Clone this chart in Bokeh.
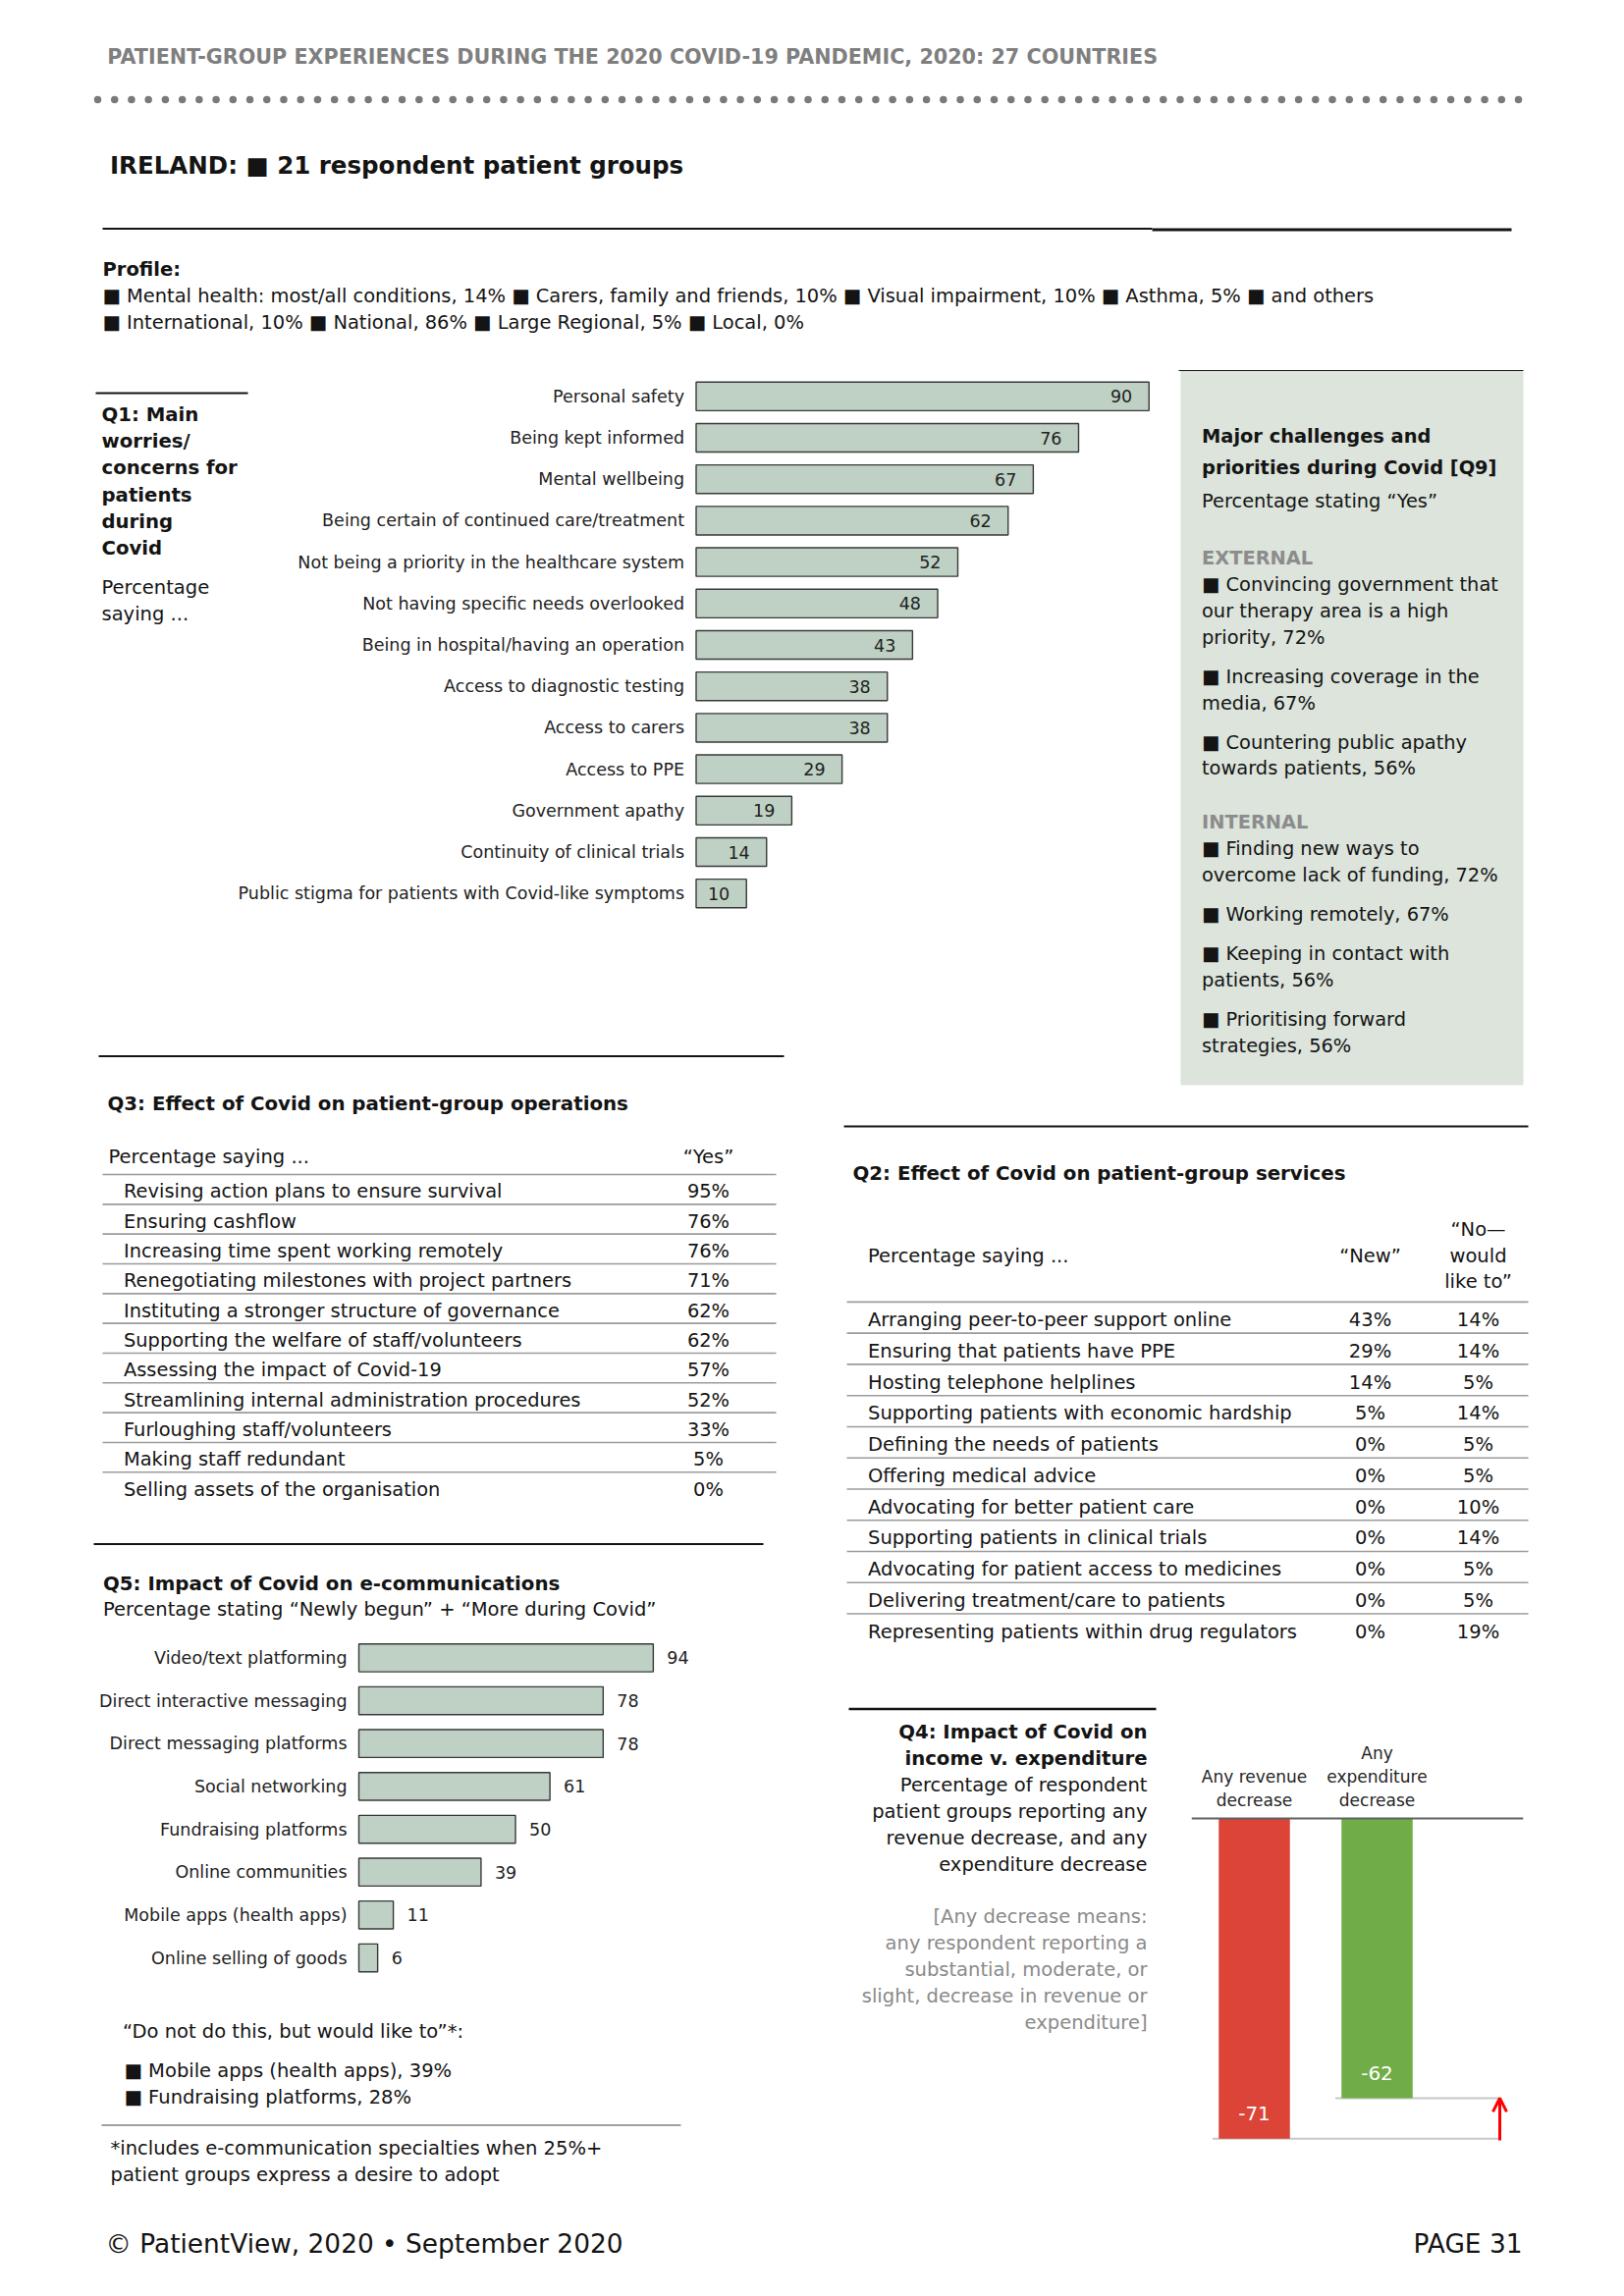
import numpy as np
from bokeh.plotting import figure
from bokeh.models import Range1d, Arrow, OpenHead
from bokeh.core.properties import value
from bokeh.embed import file_html
from bokeh.resources import INLINE

# ---------------- data ----------------
page_title = "PATIENT-GROUP EXPERIENCES DURING THE 2020 COVID-19 PANDEMIC, 2020: 27 COUNTRIES"
country_title = "IRELAND: ■ 21 respondent patient groups"
profile_heading = "Profile:"
profile_lines = [
    "■ Mental health: most/all conditions, 14% ■ Carers, family and friends, 10% ■ Visual impairment, 10% ■ Asthma, 5% ■ and others",
    "■ International, 10% ■ National, 86% ■ Large Regional, 5% ■ Local, 0%",
]

q1_heading = ["Q1: Main", "worries/", "concerns for", "patients", "during", "Covid"]
q1_sub = ["Percentage", "saying ..."]
q1_categories = [
    "Personal safety", "Being kept informed", "Mental wellbeing",
    "Being certain of continued care/treatment",
    "Not being a priority in the healthcare system",
    "Not having specific needs overlooked",
    "Being in hospital/having an operation",
    "Access to diagnostic testing", "Access to carers", "Access to PPE",
    "Government apathy", "Continuity of clinical trials",
    "Public stigma for patients with Covid-like symptoms",
]
q1_values = [90, 76, 67, 62, 52, 48, 43, 38, 38, 29, 19, 14, 10]

q9_heading = ["Major challenges and", "priorities during Covid [Q9]"]
q9_sub = "Percentage stating “Yes”"
q9_external = [
    ["Convincing government that", "our therapy area is a high", "priority, 72%"],
    ["Increasing coverage in the", "media, 67%"],
    ["Countering public apathy", "towards patients, 56%"],
]
q9_internal = [
    ["Finding new ways to", "overcome lack of funding, 72%"],
    ["Working remotely, 67%"],
    ["Keeping in contact with", "patients, 56%"],
    ["Prioritising forward", "strategies, 56%"],
]

q3_title = "Q3: Effect of Covid on patient-group operations"
q3_col_label = "Percentage saying ..."
q3_col_yes = "“Yes”"
q3_items = [
    "Revising action plans to ensure survival", "Ensuring cashflow",
    "Increasing time spent working remotely",
    "Renegotiating milestones with project partners",
    "Instituting a stronger structure of governance",
    "Supporting the welfare of staff/volunteers",
    "Assessing the impact of Covid-19",
    "Streamlining internal administration procedures",
    "Furloughing staff/volunteers", "Making staff redundant",
    "Selling assets of the organisation",
]
q3_yes = [95, 76, 76, 71, 62, 62, 57, 52, 33, 5, 0]

q2_title = "Q2: Effect of Covid on patient-group services"
q2_col_label = "Percentage saying ..."
q2_col_new = "“New”"
q2_col_would = ["“No—", "would", "like to”"]
q2_items = [
    "Arranging peer-to-peer support online", "Ensuring that patients have PPE",
    "Hosting telephone helplines", "Supporting patients with economic hardship",
    "Defining the needs of patients", "Offering medical advice",
    "Advocating for better patient care", "Supporting patients in clinical trials",
    "Advocating for patient access to medicines",
    "Delivering treatment/care to patients",
    "Representing patients within drug regulators",
]
q2_new = [43, 29, 14, 5, 0, 0, 0, 0, 0, 0, 0]
q2_would_like = [14, 14, 5, 14, 5, 5, 10, 14, 5, 5, 19]

q5_title = "Q5: Impact of Covid on e-communications"
q5_sub = "Percentage stating “Newly begun” + “More during Covid”"
q5_categories = [
    "Video/text platforming", "Direct interactive messaging",
    "Direct messaging platforms", "Social networking", "Fundraising platforms",
    "Online communities", "Mobile apps (health apps)", "Online selling of goods",
]
q5_values = [94, 78, 78, 61, 50, 39, 11, 6]
q5_wish_heading = "“Do not do this, but would like to”*:"
q5_wish_items = ["Mobile apps (health apps), 39%", "Fundraising platforms, 28%"]
q5_footnote = ["*includes e-communication specialties when 25%+",
               "patient groups express a desire to adopt"]

q4_title = ["Q4: Impact of Covid on", "income v. expenditure"]
q4_desc = ["Percentage of respondent", "patient groups reporting any",
           "revenue decrease, and any", "expenditure decrease"]
q4_note = ["[Any decrease means:", "any respondent reporting a",
           "substantial, moderate, or", "slight, decrease in revenue or",
           "expenditure]"]
q4_categories = [["Any revenue", "decrease"], ["Any", "expenditure", "decrease"]]
q4_values = [-71, -62]
q4_colors = ["#db4437", "#70ad47"]

footer_left = "© PatientView, 2020 • September 2020"
footer_right = "PAGE 31"

# ---------------- page geometry ----------------
W, H, M = 1640, 2330, 0
FONT = "DejaVu Sans"
INK = "#141414"
BAR_FILL = "#bfd1c4"
BAR_LINE = "#3a3a3a"
RULE_GREY = "#9b9b9b"


def xmap(x0_page, k):
    """value v -> page x = x0_page + k*v"""
    c0 = x0_page - M
    return Range1d(start=-c0 / k, end=(W - c0) / k)


def ymap(y0_page, k):
    """value v -> page y = y0_page + k*v (page y grows downward)"""
    c0 = y0_page - M
    return Range1d(start=(H - c0) / k, end=-c0 / k)


p = figure(width=W, height=H, x_range=Range1d(0, W), y_range=Range1d(H, 0),
           x_axis_location=None, y_axis_location=None, output_backend="svg",
           toolbar_location=None, min_border=0, tools="")
p.grid.visible = False
p.outline_line_color = None
p.background_fill_color = "white"
p.border_fill_color = "white"

p.extra_x_ranges = {
    "q1x": xmap(708.5, 5.125),
    "q5x": xmap(365.0, 3.19),
    "q4x": xmap(1277.0, 125.0),
}
p.extra_y_ranges = {
    "q1y": ymap(403.3, 42.2),
    "q3y": ymap(1213.3, 30.33),
    "q2y": ymap(1344.0, 31.76),
    "q5y": ymap(1688.4, 43.66),
    "q4y": ymap(1852.0, -4.595),
}


def txt(xs, ys, texts, size=19.5, bold=False, color=INK, align="left",
        xr="default", yr="default", x_offset=0, baseline="middle"):
    n = len(texts)
    xs = list(xs) if isinstance(xs, (list, tuple)) else [xs] * n
    ys = list(ys) if isinstance(ys, (list, tuple)) else [ys] * n
    if xr == "default":
        xs = [x - M for x in xs]
    if yr == "default":
        ys = [y - M for y in ys]
    p.text(x=xs, y=ys, text=list(texts), text_font=value(FONT),
           text_font_size=f"{size}px",
           text_font_style="bold" if bold else "normal",
           text_color=color, text_align=align, text_baseline=baseline,
           x_offset=x_offset, x_range_name=xr, y_range_name=yr)


def hline(x0, x1, y, color=INK, width=2.0):
    p.segment(x0=[x0 - M], x1=[x1 - M], y0=[y - M], y1=[y - M],
              line_color=color, line_width=width)


# ---------------- header ----------------
txt(108.7, 57, [page_title], size=20.7, bold=True, color="#7f7f7f")
dots_x = np.linspace(99, 1546, 85) - M
p.scatter(x=dots_x, y=[101 - M] * len(dots_x), size=7.5, marker="circle",
          fill_color="#7a7a7a", line_color=None)
txt(111.5, 168, [country_title], size=24.5, bold=True)
hline(104, 1173, 232.5, width=2)
hline(1173, 1539, 233.5, width=3)
txt(104, 274, [profile_heading], size=19.5, bold=True)
txt(104, [301, 328], profile_lines, size=19.45)

# ---------------- Q1 ----------------
hline(97, 252, 400, width=2)
txt(103, [422 + 27.2 * i for i in range(len(q1_heading))], q1_heading,
    size=19.7, bold=True)
txt(103, [598, 625], q1_sub, size=19.5)

q1_idx = list(range(len(q1_categories)))
p.hbar(y=q1_idx, left=0, right=q1_values, height=0.69, fill_color=BAR_FILL,
       line_color=BAR_LINE, line_width=1.4, x_range_name="q1x", y_range_name="q1y")
txt([0] * len(q1_idx), q1_idx, q1_categories, size=17.5, color="#222222",
    align="right", xr="q1x", yr="q1y", x_offset=-12)
txt(q1_values, q1_idx, [str(v) for v in q1_values], size=17.5, color="#222222",
    align="right", xr="q1x", yr="q1y", x_offset=-17)

# ---------------- Q9 box ----------------
p.quad(left=[1202 - M], right=[1551 - M], top=[377 - M], bottom=[1105 - M],
       fill_color="#dce4dc", line_color=None)
hline(1200, 1551, 377, width=1.2)
BX = 1223.5
txt(BX, [444.3, 476.3], q9_heading, size=19.4, bold=True)
txt(BX, 509.5, [q9_sub], size=19.4)


def box_section(label, items, y_label):
    txt(BX, y_label, [label], size=19.4, bold=True, color="#8c8c8c")
    y = y_label + 27
    last = y
    for item in items:
        for j, line in enumerate(item):
            txt(BX, y, [("■ " + line) if j == 0 else line], size=19.4)
            last = y
            y += 26.8
        y += 13.3
    return last


last_ext = box_section("EXTERNAL", q9_external, 568)
box_section("INTERNAL", q9_internal, last_ext + 55)

# ---------------- Q3 table ----------------
hline(100, 798, 1075.5, width=2)
txt(109, 1124, [q3_title], size=19.8, bold=True)
txt(110, 1177.5, [q3_col_label], size=19.5)
txt(721, 1177.5, [q3_col_yes], size=19.5, align="center")
q3_idx = list(range(len(q3_items)))
q3_seps = [-0.57] + [i + 0.43 for i in q3_idx[:-1]]
p.segment(x0=[104 - M] * len(q3_seps), x1=[790 - M] * len(q3_seps),
          y0=q3_seps, y1=q3_seps, line_color=RULE_GREY, line_width=1.6,
          y_range_name="q3y")
txt(125.5, q3_idx, q3_items, size=19.4, yr="q3y")
txt(721, q3_idx, [f"{v}%" for v in q3_yes], size=19.4, align="center", yr="q3y")

# ---------------- Q2 table ----------------
hline(859, 1556, 1147, width=2)
txt(868, 1195, [q2_title], size=19.8, bold=True)
txt(883.5, 1278.5, [q2_col_label], size=19.5)
txt(1395, 1278.5, [q2_col_new], size=19.5, align="center")
txt(1505, [1252, 1278.5, 1305], q2_col_would, size=19.5, align="center")
q2_idx = list(range(len(q2_items)))
q2_seps = [-0.57] + [i + 0.43 for i in q2_idx[:-1]]
p.segment(x0=[862 - M] * len(q2_seps), x1=[1556 - M] * len(q2_seps),
          y0=q2_seps, y1=q2_seps, line_color=RULE_GREY, line_width=1.6,
          y_range_name="q2y")
txt(883.5, q2_idx, q2_items, size=19.5, yr="q2y")
txt(1395, q2_idx, [f"{v}%" for v in q2_new], size=19.5, align="center", yr="q2y")
txt(1505, q2_idx, [f"{v}%" for v in q2_would_like], size=19.5, align="center", yr="q2y")

# ---------------- Q5 ----------------
hline(95, 777, 1572.5, width=2)
txt(104.5, 1613, [q5_title], size=19.8, bold=True)
txt(104.5, 1639, [q5_sub], size=19.5)
q5_idx = list(range(len(q5_categories)))
p.hbar(y=q5_idx, left=0, right=q5_values, height=0.65, fill_color=BAR_FILL,
       line_color=BAR_LINE, line_width=1.4, x_range_name="q5x", y_range_name="q5y")
txt([0] * len(q5_idx), q5_idx, q5_categories, size=17.5, color="#222222",
    align="right", xr="q5x", yr="q5y", x_offset=-12)
txt(q5_values, q5_idx, [str(v) for v in q5_values], size=17.5, color="#222222",
    align="left", xr="q5x", yr="q5y", x_offset=14)
txt(124.5, 2069, [q5_wish_heading], size=19.5)
txt(126, [2109 + 27 * i for i in range(len(q5_wish_items))],
    ["■ " + s for s in q5_wish_items], size=19.5)
hline(103, 693, 2164.5, color="#a0a0a0", width=2)
txt(112, [2188, 2215], q5_footnote, size=19.5)

# ---------------- Q4 ----------------
hline(864, 1177, 1740.5, width=2.5)
QX = 1168
txt(QX, [1764.4, 1791.3], q4_title, size=19.7, bold=True, align="right")
txt(QX, [1818.1 + 26.9 * i for i in range(len(q4_desc))], q4_desc,
    size=19.5, align="right")
txt(QX, [1952.4 + 26.9 * i for i in range(len(q4_note))], q4_note,
    size=19.5, align="right", color="#8a8a8a")

for i, lines in enumerate(q4_categories):
    n = len(lines)
    ys = [1833 - 24 * (n - 1 - j) for j in range(n)]
    txt([i] * n, ys, lines, size=17, color="#262626", align="center", xr="q4x")

q4_idx = list(range(len(q4_values)))
p.segment(x0=[i - 0.34 for i in q4_idx], x1=[2] * len(q4_idx),
          y0=q4_values, y1=q4_values, line_color="#c8c8c8", line_width=2,
          x_range_name="q4x", y_range_name="q4y")
p.vbar(x=q4_idx, bottom=q4_values, top=0, width=0.58, fill_color=q4_colors,
       line_color=None, x_range_name="q4x", y_range_name="q4y")
p.segment(x0=[-0.51], x1=[2.19], y0=[0], y1=[0], line_color="#606060",
          line_width=2, x_range_name="q4x", y_range_name="q4y")
txt(q4_idx, [v + 5.6 for v in q4_values], [str(v) for v in q4_values],
    size=20, color="white", align="center", xr="q4x", yr="q4y")
p.add_layout(Arrow(end=OpenHead(line_color="#ff0000", line_width=3, size=14),
                   x_start=2, y_start=q4_values[0] - 0.4, x_end=2,
                   y_end=q4_values[1], line_color="#ff0000", line_width=3,
                   x_range_name="q4x", y_range_name="q4y"))

# ---------------- footer ----------------
txt(107, 2285, [footer_left], size=26.4)
txt(1550, 2285, [footer_right], size=26.4, align="right")

open("out.html", "w").write(file_html(p, INLINE))
